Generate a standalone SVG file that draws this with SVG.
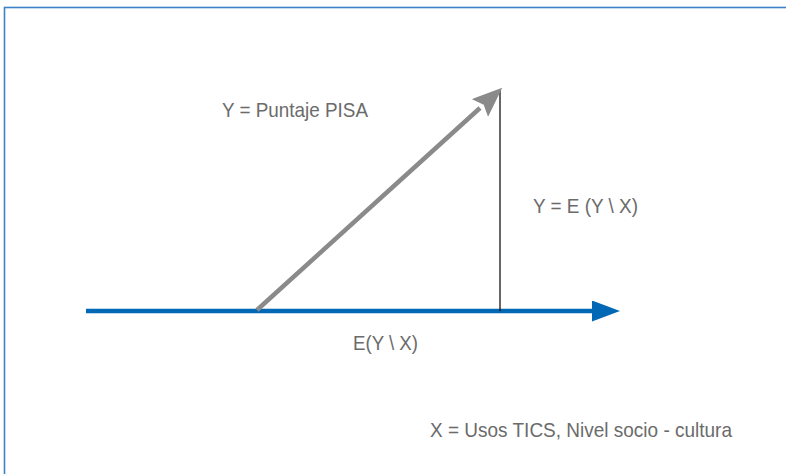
<svg xmlns="http://www.w3.org/2000/svg" width="786" height="474" viewBox="0 0 786 474">
  <defs>
    <style>
      .lbl { font-family: "Liberation Sans Narrow", "Liberation Sans", Arial, sans-serif; font-size: 21px; fill: #6b6b6b; }
    </style>
    <marker id="blueHead" viewBox="0 0 28 21" refX="0" refY="10.5" markerWidth="28" markerHeight="21" markerUnits="userSpaceOnUse" orient="auto">
      <path d="M0,0 L28,10.5 L0,21 Z" fill="#0068b5"/>
    </marker>
    <marker id="grayHead" viewBox="0 0 30 24" refX="0" refY="12" markerWidth="30" markerHeight="24" markerUnits="userSpaceOnUse" orient="auto">
      <path d="M0,0 L30,12 L0,24 L5,12 Z" fill="#8a8a8a"/>
    </marker>
  </defs>
  <rect id="frame" x="4.5" y="7.5" width="800" height="480" fill="#ffffff" stroke="#3d82c8" stroke-width="1.6"/>
  <g id="connectors">
    <line x1="86" y1="311" x2="592" y2="311" stroke="#0068b5" stroke-width="4.5" marker-end="url(#blueHead)"/>
    <line x1="500" y1="90" x2="500" y2="311" stroke="#000000" stroke-width="1.2"/>
    <line x1="257" y1="310" x2="480" y2="108" stroke="#8a8a8a" stroke-width="4.5" marker-end="url(#grayHead)"/>
  </g>
  <g id="label-y">
    <text class="lbl" x="222" y="117" textLength="146" lengthAdjust="spacingAndGlyphs">Y = Puntaje PISA</text>
  </g>
  <g id="label-yex">
    <text class="lbl" x="533" y="213" textLength="105" lengthAdjust="spacingAndGlyphs">Y = E (Y \ X)</text>
  </g>
  <g id="label-ex">
    <text class="lbl" x="353" y="350" textLength="65" lengthAdjust="spacingAndGlyphs">E(Y \ X)</text>
  </g>
  <g id="label-x">
    <text class="lbl" x="430" y="437" textLength="302" lengthAdjust="spacingAndGlyphs">X = Usos TICS, Nivel socio - cultura</text>
  </g>
</svg>
